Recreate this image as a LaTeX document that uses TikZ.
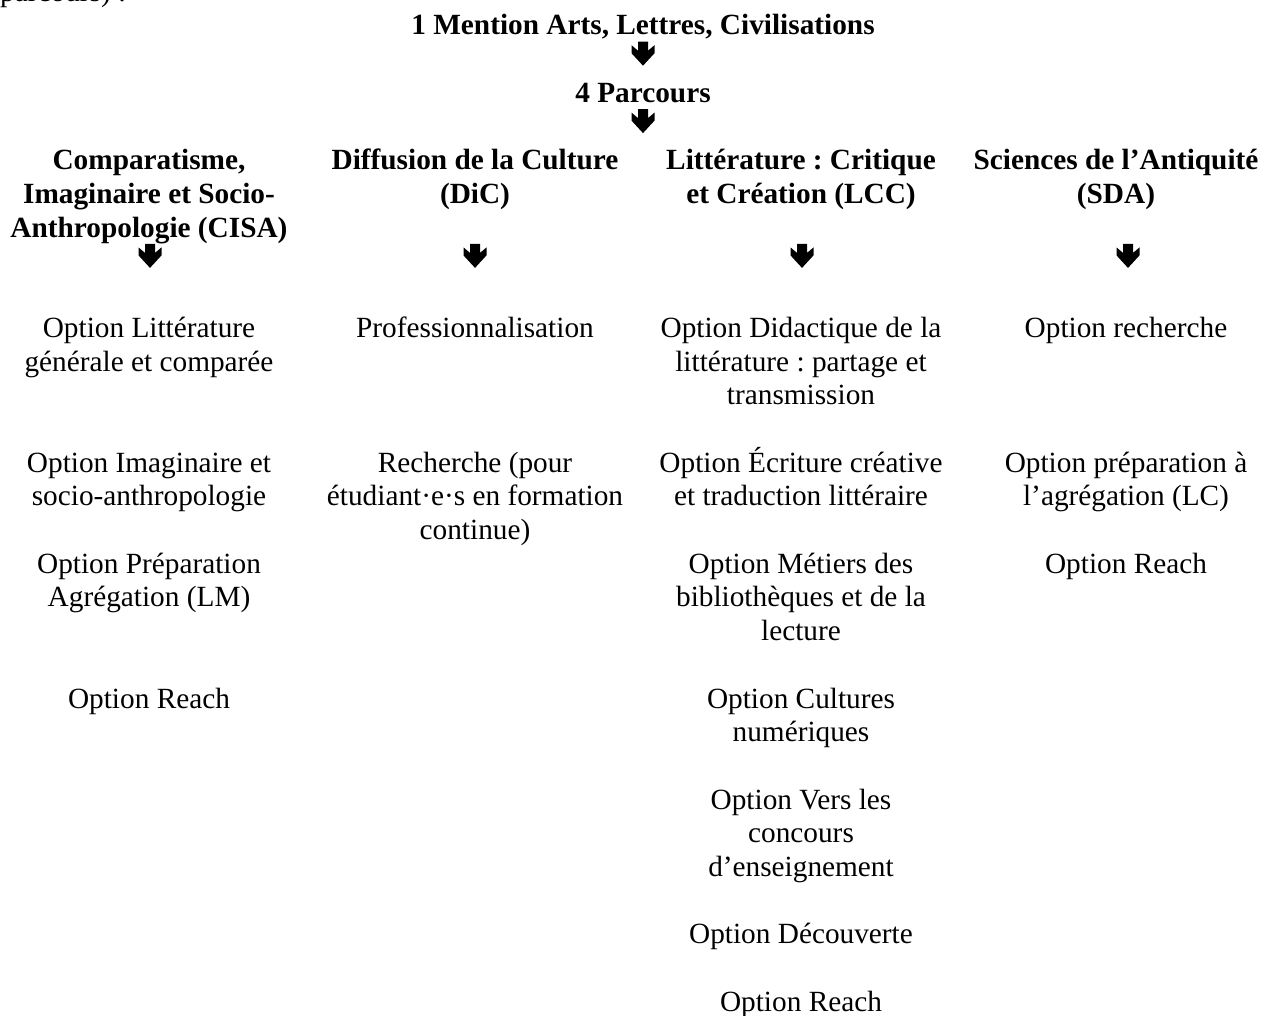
\documentclass[tikz,border=0pt]{standalone}
\usepackage{fontspec}
\setmainfont{Liberation Serif}
\frenchspacing
\newcommand\cellblock[1]{\begin{tabular}[t]{@{}c@{}}#1\end{tabular}}
\tikzset{
  txt/.style={anchor=base, inner sep=0pt, font=\fontsize{29.3}{33.7}\selectfont\frenchspacing},
  head/.style={anchor=base, inner sep=0pt, font=\fontsize{29.3}{33.7}\selectfont\bfseries\frenchspacing},
  downarrow/.pic={\fill[black] (-5,-27) -- (5,-27) -- (5,-18) -- (11.5,-23.5) -- (11.5,-15.5) -- (0,-3) -- (-11.5,-15.5) -- (-11.5,-23.5) -- (-5,-18) -- cycle;}
}
\begin{document}
\begin{tikzpicture}[x=1pt,y=-1pt]
\path[use as bounding box, fill=white] (0,0) rectangle (1271,1016);
% top
\node[txt, anchor=base west] (intro) at (0,1.3) {parcours) :};
\node[head] (mention) at (643,35) {1 Mention Arts, Lettres, Civilisations};
\pic (a1) at (643,68.7) {downarrow};
\node[head] (parcours) at (643,102.4) {4 Parcours};
\pic (a2) at (643,136.1) {downarrow};
% headers
\node[head] (cisa) at (149,169.8) {\cellblock{Comparatisme,\\Imaginaire et Socio-\\Anthropologie (CISA)}};
\node[head] (dic) at (475,169.8) {\cellblock{Diffusion de la Culture\\(DiC)}};
\node[head] (lcc) at (801,169.8) {\cellblock{Littérature : Critique\\et Création (LCC)}};
\node[head] (sda) at (1116,169.8) {\cellblock{Sciences de l’Antiquité\\(SDA)}};
% arrows under headers
\pic (a3) at (150,270.9) {downarrow};
\pic (a4) at (475,270.9) {downarrow};
\pic (a5) at (802,270.9) {downarrow};
\pic (a6) at (1128,270.9) {downarrow};
% column 1
\node[txt] (c1a) at (149,337.3) {\cellblock{Option Littérature\\générale et comparée}};
\node[txt] (c1b) at (149,472.1) {\cellblock{Option Imaginaire et\\socio-anthropologie}};
\node[txt] (c1c) at (149,573.2) {\cellblock{Option Préparation\\Agrégation (LM)}};
\node[txt] (c1d) at (149,708.0) {Option Reach};
% column 2
\node[txt] (c2a) at (475,337.3) {Professionnalisation};
\node[txt] (c2b) at (475,472.1) {\cellblock{Recherche (pour\\étudiant·e·s en formation\\continue)}};
% column 3
\node[txt] (c3a) at (801,337.3) {\cellblock{Option Didactique de la\\littérature : partage et\\transmission}};
\node[txt] (c3b) at (801,472.1) {\cellblock{Option Écriture créative\\et traduction littéraire}};
\node[txt] (c3c) at (801,573.2) {\cellblock{Option Métiers des\\bibliothèques et de la\\lecture}};
\node[txt] (c3d) at (801,708.0) {\cellblock{Option Cultures\\numériques}};
\node[txt] (c3e) at (801,809.1) {\cellblock{Option Vers les\\concours\\d’enseignement}};
\node[txt] (c3f) at (801,943.9) {Option Découverte};
\node[txt] (c3g) at (801,1011.3) {Option Reach};
% column 4
\node[txt] (c4a) at (1126,337.3) {Option recherche};
\node[txt] (c4b) at (1126,472.1) {\cellblock{Option préparation à\\l’agrégation (LC)}};
\node[txt] (c4c) at (1126,573.2) {Option Reach};
\end{tikzpicture}
\end{document}
